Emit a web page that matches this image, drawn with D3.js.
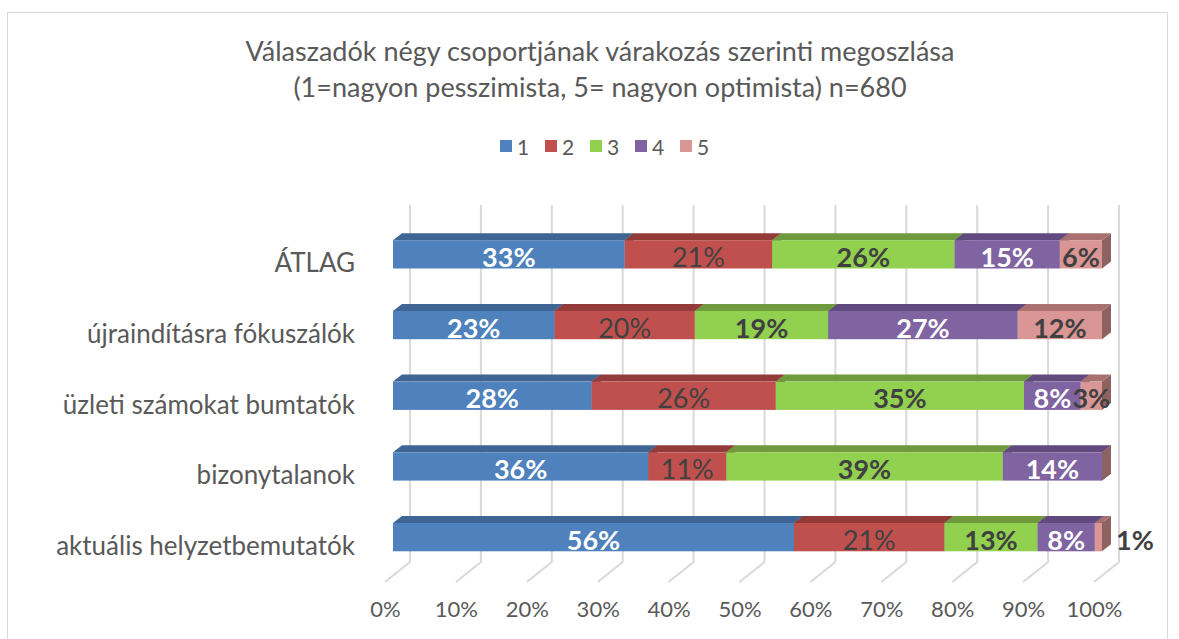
<!DOCTYPE html>
<html>
<head>
<meta charset="utf-8">
<script src="https://cdn.jsdelivr.net/npm/d3@7"></script>
<style>
  body { margin: 0; background: #fff; }
  svg { font-family: Lato, "Open Sans", sans-serif; }
</style>
</head>
<body>
<div id="chart"></div>
<script>
// kategóriák (felülről lefelé) és az öt válaszérték aránya (%)
const categories = ["ÁTLAG", "újraindításra fókuszálók", "üzleti számokat bumtatók", "bizonytalanok", "aktuális helyzetbemutatók"];
const seriesNames = ["1", "2", "3", "4", "5"];
const values1 = [33, 23, 28, 36, 56];
const values2 = [21, 20, 26, 11, 21];
const values3 = [26, 19, 35, 39, 13];
const values4 = [15, 27, 8, 14, 8];
const values5 = [6, 12, 3, 0, 1];
const tickValues = [0, 0.1, 0.2, 0.3, 0.4, 0.5, 0.6, 0.7, 0.8, 0.9, 1];

const frontColors = ["#4F81BD", "#C0504D", "#92D050", "#8064A2", "#D99694"];
const topColors = ["#3E6593", "#933B39", "#6F9A3D", "#614A7E", "#A8716F"];
const sideColors = ["#34557C", "#7E3230", "#5E8434", "#52406B", "#8D6260"];
const labelColors = ["#ffffff", "#404040", "#404040", "#ffffff", "#404040"];
const labelWeights = ["bold", "normal", "bold", "bold", "bold"];

const width = 1179, height = 639;
const depthX = 9, depthY = 7;

const rows = categories.map((c, i) => ({
  cat: c, "1": values1[i], "2": values2[i], "3": values3[i], "4": values4[i], "5": values5[i]
}));

const stacked = d3.stack().keys(seriesNames).offset(d3.stackOffsetExpand)(rows);

const svg = d3.select("#chart").append("svg")
  .attr("width", width)
  .attr("height", height);

svg.append("rect")
  .attr("x", 7.5).attr("y", 12.5)
  .attr("width", 1160).attr("height", 640)
  .attr("fill", "#fff").attr("stroke", "#D9D9D9");

// cím
const title = svg.append("text")
  .attr("text-anchor", "middle")
  .attr("fill", "#595959")
  .style("font-size", "27px");
title.append("tspan").attr("x", 600).attr("y", 61)
  .text("Válaszadók négy csoportjának várakozás szerinti megoszlása");
title.append("tspan").attr("x", 600).attr("y", 97)
  .text("(1=nagyon pesszimista, 5= nagyon optimista) n=680");

// jelmagyarázat
const legend = svg.append("g").attr("transform", "translate(500,140)");
const li = legend.selectAll("g").data(seriesNames).enter().append("g")
  .attr("transform", (d, i) => `translate(${i * 45},0)`);
li.append("rect").attr("width", 12).attr("height", 12)
  .attr("fill", (d, i) => frontColors[i]);
li.append("text").attr("x", 17).attr("y", 6)
  .attr("dominant-baseline", "central")
  .attr("fill", "#595959")
  .style("font-size", "21px")
  .text(d => d);

const x = d3.scaleLinear().domain([0, 1]).range([393, 1102]);
const y = d3.scaleBand().domain(categories).range([219, 572.5])
  .paddingInner(0.6).paddingOuter(0.3);

// rácsvonalak: hátfal + padló
const wallTop = 205, wallBottom = 562, floorFront = 582;
const grid = svg.append("g");
grid.selectAll("path").data(tickValues).enter().append("path")
  .attr("d", d => `M${x(d) + 17},${wallTop}V${wallBottom}L${x(d) - 8},${floorFront}`)
  .attr("fill", "none")
  .attr("stroke", "#D9D9D9")
  .attr("stroke-width", 2);

// tengely feliratok
const xAxis = d3.axisBottom(x.copy().range([x(0) - 8, x(1) - 8]))
  .tickValues(tickValues)
  .tickFormat(d3.format(".0%"))
  .tickSize(0)
  .tickPadding(0);
const ax = svg.append("g").attr("transform", "translate(0,601)").call(xAxis);
ax.select(".domain").remove();
ax.selectAll("text")
  .attr("fill", "#595959")
  .style("font-family", "Lato, sans-serif")
  .style("font-size", "22px");

// kategória feliratok
svg.append("g").selectAll("text").data(categories).enter().append("text")
  .attr("x", 355)
  .attr("y", d => y(d) + y.bandwidth() / 2 + 8)
  .attr("text-anchor", "end")
  .attr("dominant-baseline", "central")
  .attr("fill", "#595959")
  .style("font-size", "26px")
  .text(d => d);

// 3D oszlopok
const h = y.bandwidth();
const series = svg.append("g").selectAll("g").data(stacked).enter().append("g");

series.each(function(s, si) {
  const g = d3.select(this);
  s.forEach(d => {
    const x0 = x(d[0]), x1 = x(d[1]), yt = y(d.data.cat);
    g.append("path")
      .attr("d", `M${x1},${yt}L${x1 + depthX},${yt - depthY}V${yt + h - depthY}L${x1},${yt + h}Z`)
      .attr("fill", sideColors[si]);
    g.append("path")
      .attr("d", `M${x0},${yt}L${x0 + depthX},${yt - depthY}H${x1 + depthX}L${x1},${yt}Z`)
      .attr("fill", topColors[si]);
    g.append("rect")
      .attr("x", x0).attr("y", yt)
      .attr("width", x1 - x0).attr("height", h)
      .attr("fill", frontColors[si]);
  });
});

// adatfeliratok
series.each(function(s, si) {
  const g = d3.select(this);
  s.forEach((d, ci) => {
    const v = rows[ci][s.key];
    if (!v) return;
    const share = d[1] - d[0];
    const outside = share < 0.02;
    g.append("text")
      .attr("x", outside ? x(1) + depthX + 5 : (x(d[0]) + x(d[1])) / 2)
      .attr("y", y(d.data.cat) + h / 2 + 2)
      .attr("text-anchor", outside ? "start" : "middle")
      .attr("dominant-baseline", "central")
      .attr("fill", labelColors[si])
      .style("font-weight", labelWeights[si])
      .style("font-size", "27px")
      .text(v + "%");
  });
});
</script>
</body>
</html>
